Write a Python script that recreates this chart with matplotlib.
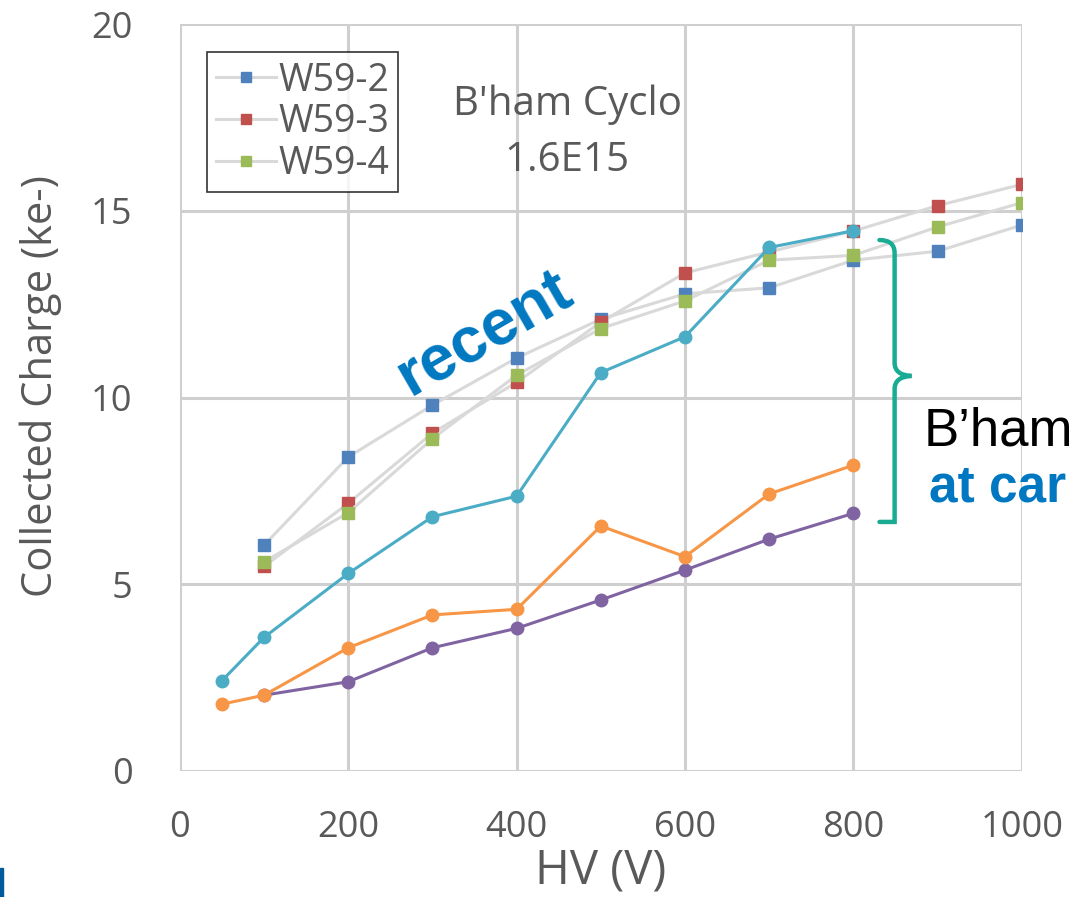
import numpy as np
import matplotlib.pyplot as plt
from matplotlib.path import Path
from matplotlib.patches import PathPatch, Rectangle

plt.rcParams['font.family'] = ['Open Sans', 'DejaVu Sans']

# W59 sensors (recent), grey lines with square markers
hv_w59 = [100, 200, 300, 400, 500, 600, 700, 800, 900, 1000]
w59_2 = [6.05, 8.41, 9.80, 11.06, 12.10, 12.78, 12.94, 13.68, 13.92, 14.62]
w59_3 = [5.48, 7.17, 9.05, 10.41, 12.02, 13.34, 13.90, 14.46, 15.14, 15.71]
w59_4 = [5.60, 6.92, 8.90, 10.60, 11.85, 12.59, 13.68, 13.81, 14.57, 15.22]

# B'ham measurements at the time
hv_cyan = [50, 100, 200, 300, 400, 500, 600, 700, 800]
cyan = [2.42, 3.58, 5.29, 6.81, 7.36, 10.67, 11.63, 14.02, 14.47]
hv_orange = [50, 100, 200, 300, 400, 500, 600, 700, 800]
orange = [1.79, 2.03, 3.30, 4.18, 4.33, 6.56, 5.74, 7.42, 8.19]
hv_purple = [100, 200, 300, 400, 500, 600, 700, 800]
purple = [2.03, 2.39, 3.30, 3.82, 4.58, 5.38, 6.21, 6.90]

xticks = [0, 200, 400, 600, 800, 1000]
yticks = [0, 5, 10, 15, 20]

fig = plt.figure(figsize=(10.71, 8.97), dpi=100)
ax = fig.add_axes([0.168, 0.1405, 0.786, 0.8325])

grid_c = '#CFCFCF'
for sp in ax.spines.values():
    sp.set_visible(False)
ax.set_xlim(0, 1000)
ax.set_ylim(0, 20)
ax.set_xticks(xticks)
ax.set_yticks(yticks)
ax.grid(True, color=grid_c, lw=2.2, zorder=0)
ax.set_axisbelow(True)
ax.tick_params(length=0, labelsize=26, colors='#595959')
ax.tick_params(axis='y', pad=34)
ax.tick_params(axis='x', pad=28)

grey = '#D9D9D9'
ax.plot(hv_w59, w59_2, color=grey, lw=2.2, marker='s', ms=8.5, mfc='#4F81BD', mec='#4F81BD', label='W59-2', zorder=3)
ax.plot(hv_w59, w59_3, color=grey, lw=2.2, marker='s', ms=8.5, mfc='#C0504D', mec='#C0504D', label='W59-3', zorder=3)
ax.plot(hv_w59, w59_4, color=grey, lw=2.2, marker='s', ms=8.5, mfc='#9BBB59', mec='#9BBB59', label='W59-4', zorder=3)

ax.plot(hv_purple, purple, color='#8064A2', lw=2.2, marker='o', ms=9, zorder=4)
ax.plot(hv_orange, orange, color='#F79646', lw=2.2, marker='o', ms=9, zorder=5)
ax.plot(hv_cyan, cyan, color='#4BACC6', lw=2.2, marker='o', ms=9, zorder=6)

leg = ax.legend(loc='upper left', bbox_to_anchor=(0.032, 0.9625), fontsize=27,
                frameon=True, fancybox=False, edgecolor='#000000', handlelength=1.6,
                handletextpad=0.05, borderpad=0.25, labelspacing=0.1, labelcolor='#595959',
                borderaxespad=0, markerscale=0.85)
leg.get_frame().set_linewidth(1.2)

ax.text(460, 17.85, "B'ham Cyclo", fontsize=29, color='#595959', ha='center', va='center')
ax.text(460, 16.35, '1.6E15', fontsize=29, color='#595959', ha='center', va='center')

ax.text(362, 11.7, 'recent', fontsize=46, fontweight='bold', color='#0078C1',
        rotation=30, ha='center', va='center', family=['Liberation Sans', 'DejaVu Sans'])

ax.set_ylabel('Collected Charge (ke-)', fontsize=30, color='#595959', labelpad=20)
ax.yaxis.set_label_coords(-0.140, 0.515)
ax.set_xlabel('HV (V)', fontsize=34, color='#595959', labelpad=1)

# curly brace
x0, xm, xt = 831, 849, 869
yt, ym, yb = 14.22, 10.58, 6.67
verts = [(x0, yt), (xm, yt), (xm, yt - 0.35), (xm, yt - 0.7),
         (xm, ym + 0.35), (xm, ym + 0.02), (xt, ym),
         (xm, ym - 0.02), (xm, ym - 0.35),
         (xm, yb + 0.7), (xm, yb + 0.35), (xm, yb), (x0, yb)]
codes = [Path.MOVETO, Path.CURVE3, Path.CURVE3, Path.LINETO,
         Path.LINETO, Path.CURVE3, Path.CURVE3,
         Path.CURVE3, Path.CURVE3,
         Path.LINETO, Path.CURVE3, Path.CURVE3, Path.LINETO]
brace = PathPatch(Path(verts, codes), fill=False, edgecolor='#1AAC93', lw=3.2,
                  clip_on=False, zorder=7, capstyle='round')
ax.add_patch(brace)

fig.text(0.862, 0.519, 'B’ham', fontsize=38, color='black', ha='left', va='center',
         family=['Liberation Sans', 'DejaVu Sans'])
fig.text(0.867, 0.456, 'at car', fontsize=37, color='#0078C1', fontweight='bold',
         ha='left', va='center', family=['Liberation Sans', 'DejaVu Sans'])

fig.patches.append(Rectangle((0, 0), 0.003, 0.032, transform=fig.transFigure,
                             color='#005A9C', figure=fig))

fig.savefig('out.png', dpi=100)
